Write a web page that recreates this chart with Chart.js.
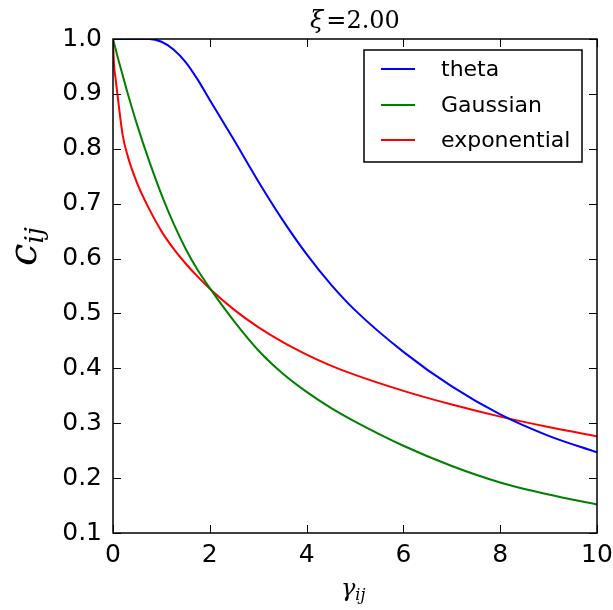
<html>
 <head>
   <meta charset="utf-8" />
   <title>Correlation functions</title>
   <style>
     body { margin: 0; background: #fff; }
     #wrap { width: 613px; height: 610px; position: relative; }
   </style>
 </head>
 <body>
<div id="wrap">
  <canvas id="corr_chart"></canvas>
</div>

<script src="https://cdn.jsdelivr.net/npm/chart.js"></script>
<script>

// values
gammaValues = [0, 0.02, 0.05, 0.1, 0.2, 0.3, 0.5, 0.75, 1, 1.25, 1.5, 1.75, 2, 2.5, 3, 3.5, 4, 4.5, 5, 6, 7, 8, 9, 10];
thetaValues = [1, 1, 1, 1, 1, 1, 1, 1, 0.995, 0.981, 0.958, 0.926, 0.889, 0.816, 0.741, 0.671, 0.608, 0.553, 0.506, 0.43, 0.367, 0.316, 0.277, 0.247];
gaussianValues = [1, 0.993, 0.983, 0.966, 0.934, 0.902, 0.843, 0.777, 0.717, 0.664, 0.618, 0.579, 0.546, 0.486, 0.433, 0.391, 0.357, 0.328, 0.303, 0.259, 0.222, 0.192, 0.17, 0.152];
exponentialValues = [1, 0.955, 0.93, 0.893, 0.825, 0.788, 0.737, 0.69, 0.65, 0.618, 0.591, 0.567, 0.545, 0.507, 0.475, 0.448, 0.425, 0.405, 0.388, 0.359, 0.334, 0.312, 0.293, 0.276];

seriesNames = ['theta', 'Gaussian', 'exponential'];
seriesColors = ['#0000ff', '#008000', '#ff0000'];

xTicks = [0, 2, 4, 6, 8, 10];
yTicks = [0.1, 0.2, 0.3, 0.4, 0.5, 0.6, 0.7, 0.8, 0.9, 1.0];

titleText = ['ξ', '=2.00'];

function toPoints(ys) {
  var pts = [];
  for (var i = 0; i < gammaValues.length; ++i) {
    pts.push({x: gammaValues[i], y: ys[i]});
  }
  return pts;
}

var allSeries = [thetaValues, gaussianValues, exponentialValues];
var datasets = [];
for (var k = 0; k < allSeries.length; ++k) {
  datasets.push({
    label: seriesNames[k],
    data: toPoints(allSeries[k]),
    borderColor: seriesColors[k],
    backgroundColor: seriesColors[k],
    borderWidth: 2,
    pointRadius: 0,
    fill: false,
    cubicInterpolationMode: 'monotone'
  });
}

// frame, inward ticks, title, axis labels and legend
var decorations = {
  id: 'decorations',
  afterDraw(chart) {
    var c = chart.ctx;
    var a = chart.chartArea;
    var xs = chart.scales.x;
    var ys = chart.scales.y;
    c.save();
    c.strokeStyle = '#000';
    c.lineWidth = 1;
    xTicks.forEach(function (t) {
      var px = Math.round(xs.getPixelForValue(t)) + 0.5;
      c.beginPath();
      c.moveTo(px, a.bottom); c.lineTo(px, a.bottom - 8);
      c.moveTo(px, a.top); c.lineTo(px, a.top + 8);
      c.stroke();
    });
    yTicks.forEach(function (t) {
      var py = Math.round(ys.getPixelForValue(t)) + 0.5;
      c.beginPath();
      c.moveTo(a.left, py); c.lineTo(a.left + 8, py);
      c.moveTo(a.right, py); c.lineTo(a.right - 8, py);
      c.stroke();
    });
    c.lineWidth = 1.5;
    c.strokeRect(a.left, a.top, a.right - a.left, a.bottom - a.top);

    // title
    c.fillStyle = '#000';
    c.textBaseline = 'alphabetic';
    c.font = 'italic 24px "DejaVu Serif"';
    var w1 = c.measureText(titleText[0]).width;
    c.font = '24px "DejaVu Serif"';
    var w2 = c.measureText(titleText[1]).width;
    var cx = (a.left + a.right) / 2;
    var sx = cx - (w1 + 3 + w2) / 2;
    c.font = 'italic 24px "DejaVu Serif"';
    c.fillText(titleText[0], sx, 28);
    c.font = '24px "DejaVu Serif"';
    c.fillText(titleText[1], sx + w1 + 3, 28);

    // x axis label
    c.font = 'italic 24px "DejaVu Serif"';
    var gw = c.measureText('γ').width;
    c.fillText('γ', 341, 596);
    c.font = 'italic 16px "DejaVu Serif"';
    c.fillText('ij', 341 + gw, 600);

    // y axis label
    c.save();
    c.translate(36, 266);
    c.rotate(-Math.PI / 2);
    c.font = 'italic 40px "DejaVu Serif"';
    var cw = c.measureText('c').width;
    c.fillText('c', 0, 0);
    c.font = 'italic 26px "DejaVu Serif"';
    c.fillText('ij', cw, 7);
    c.restore();

    // legend
    var lx = 364, ly = 50, lw = 218, lh = 112;
    c.fillStyle = '#fff';
    c.fillRect(lx, ly, lw, lh);
    c.lineWidth = 1.5;
    c.strokeStyle = '#000';
    c.strokeRect(lx, ly, lw, lh);
    c.font = '22px "DejaVu Sans"';
    c.textBaseline = 'middle';
    var rows = [69, 105, 140];
    chart.data.datasets.forEach(function (ds, i) {
      c.strokeStyle = ds.borderColor;
      c.lineWidth = 2;
      c.beginPath();
      c.moveTo(381, rows[i]); c.lineTo(415, rows[i]);
      c.stroke();
      c.fillStyle = '#000';
      c.fillText(ds.label, 441, rows[i] + 1);
    });
    c.restore();
  }
};

Chart.defaults.font.family = '"DejaVu Sans"';
Chart.defaults.color = '#000';

var ctx = document.getElementById('corr_chart');
var corr_chart = new Chart(ctx, {
  type: 'line',
  data: { datasets: datasets },
  options: {
    responsive: true,
    maintainAspectRatio: false,
    animation: false,
    layout: { padding: { top: 39, right: 16, left: 0, bottom: 0 } },
    plugins: {
      legend: { display: false },
      tooltip: { enabled: false }
    },
    scales: {
      x: {
        type: 'linear',
        min: 0,
        max: 10,
        afterFit: function (s) { s.height = 77; s.paddingLeft = 0; s.paddingRight = 0; },
        afterBuildTicks: function (s) { s.ticks = xTicks.map(function (v) { return {value: v}; }); },
        ticks: { font: { size: 25 }, padding: 7, maxRotation: 0 },
        grid: { display: false, drawTicks: false },
        border: { display: false }
      },
      y: {
        type: 'linear',
        min: 0.1,
        max: 1.0,
        afterFit: function (s) { s.width = 113; s.paddingTop = 0; s.paddingBottom = 0; },
        afterBuildTicks: function (s) { s.ticks = yTicks.map(function (v) { return {value: v}; }); },
        ticks: {
          font: { size: 25 },
          padding: 11,
          callback: function (v) { return Number(v).toFixed(1); }
        },
        grid: { display: false, drawTicks: false },
        border: { display: false }
      }
    }
  },
  plugins: [decorations]
});

</script>
</body>
</html>
